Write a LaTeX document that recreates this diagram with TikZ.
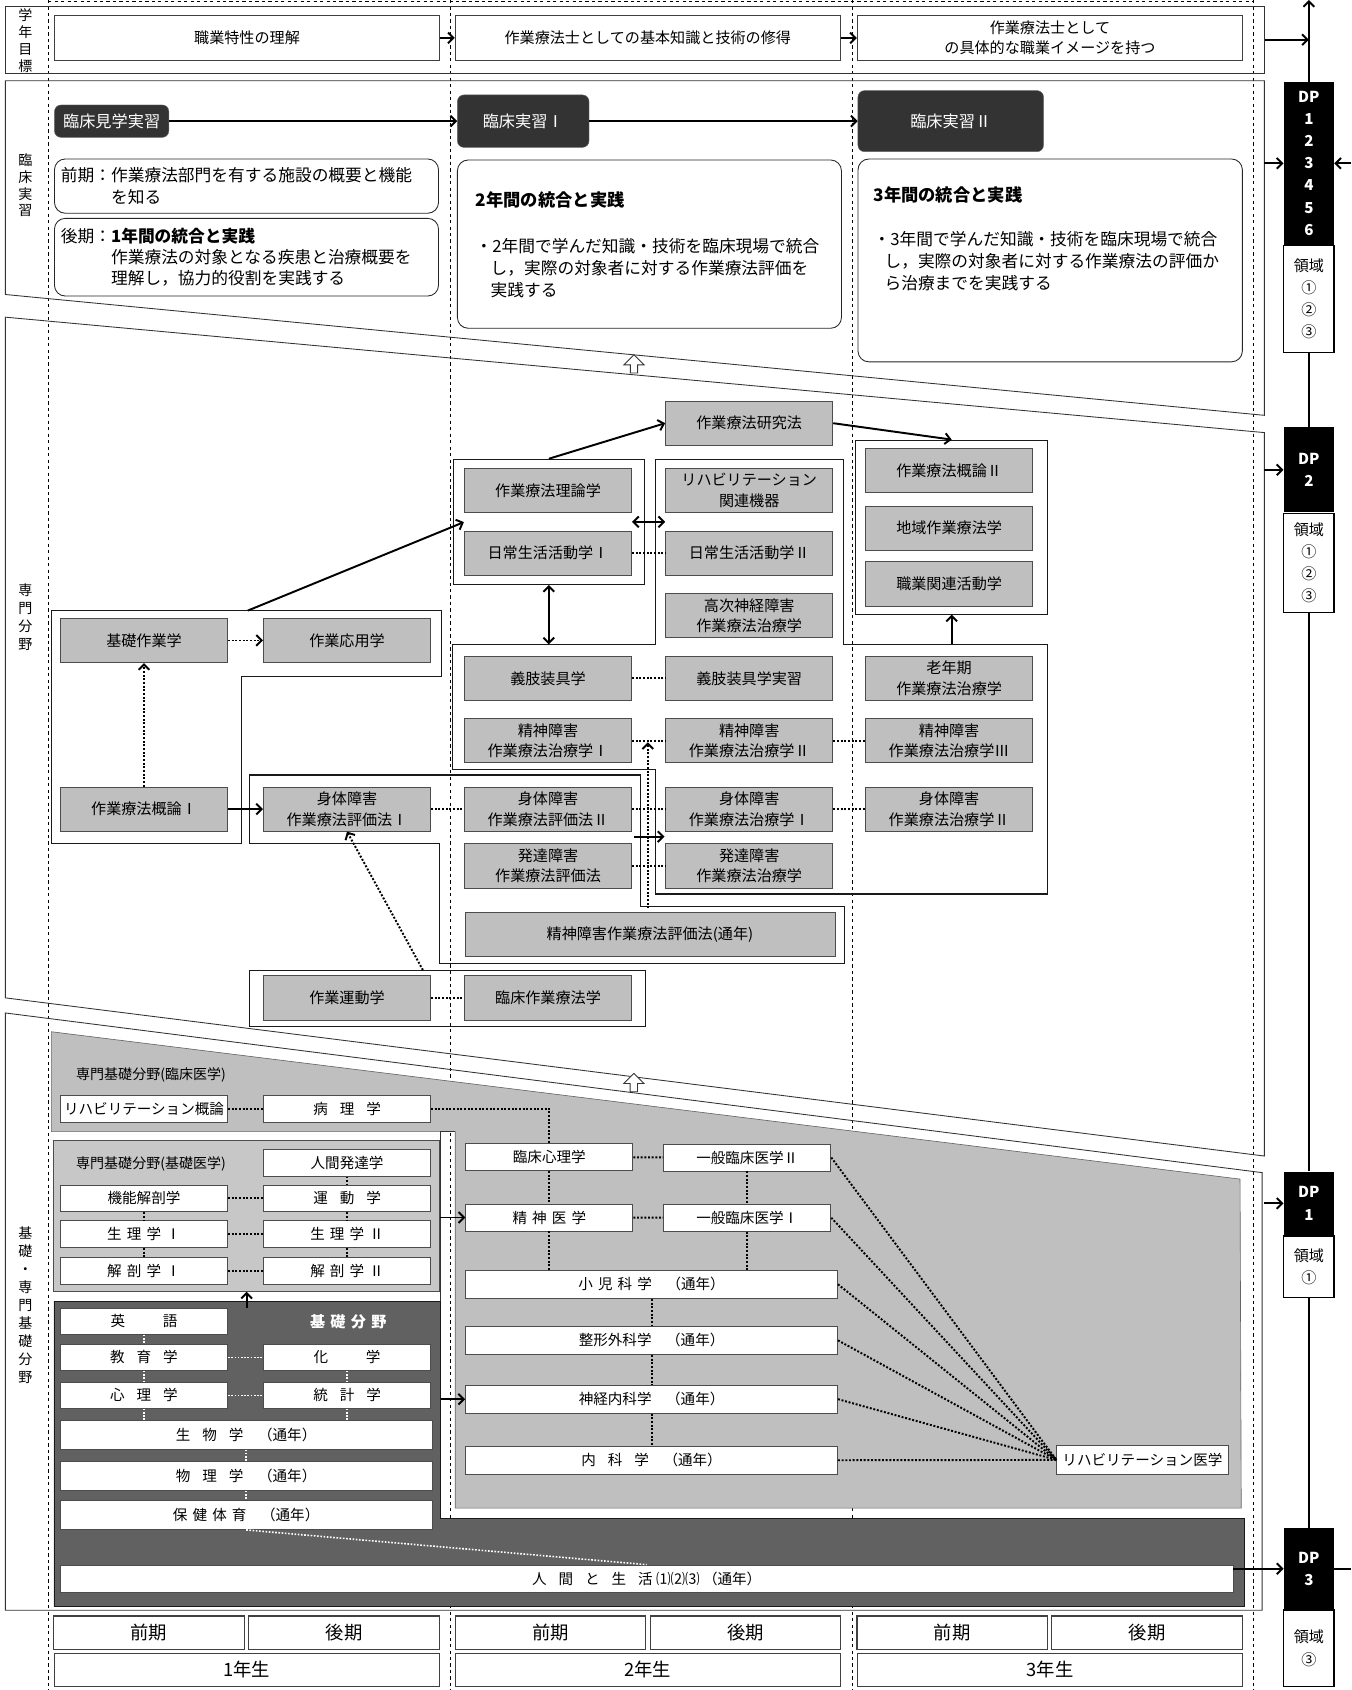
\documentclass[tikz,border=0pt]{standalone}
\usepackage{fontspec}
\setmainfont{Noto Sans CJK JP}
\usetikzlibrary{arrows.meta,positioning,shapes.arrows}
\newcommand{\kgap}{\hspace{0.82em}}
\newcommand{\ngap}{\hspace{0.35em}}

\begin{document}
\begin{tikzpicture}[x=1pt, y=-1pt,
    frame/.style={draw=black!80, line width=0.8pt},
    grp/.style={draw=black!90, line width=1pt},
    lbl/.style={align=center, inner sep=0pt, font=\fontsize{13}{15.6}\selectfont},
    txt/.style={inner sep=0pt, align=left},
    goalbox/.style={draw=black!75, fill=white, line width=0.9pt, minimum width=357pt, minimum height=41pt, inner sep=0pt, align=center, font=\fontsize{14}{18.7}\selectfont},
    darkbox/.style={fill=black!80, draw=black!60, rounded corners=6pt, text=white, inner sep=0pt, font=\fontsize{15}{18}\selectfont},
    rbox/.style={draw=black!85, fill=white, rounded corners=10pt, line width=0.8pt},
    gbox/.style={draw=black!70, fill=black!25, line width=0.8pt, minimum width=155pt, minimum height=41pt, inner sep=0pt, align=center, font=\fontsize{14}{19}\selectfont},
    wbox/.style={draw=black!70, fill=white, line width=0.8pt, minimum width=155pt, minimum height=25pt, inner sep=0pt, align=center, font=\fontsize{13.5}{15}\selectfont},
    termbox/.style={draw=black!75, fill=white, line width=1pt, minimum width=176.5pt, minimum height=31pt, inner sep=0pt, font=\fontsize{17}{20}\selectfont},
    yearbox/.style={draw=black!75, fill=white, line width=1pt, minimum width=357pt, minimum height=30.4pt, inner sep=0pt, font=\fontsize{17}{20}\selectfont},
    dpb/.style={fill=black, text=white, minimum width=46.6pt, inner sep=0pt, align=center, font=\bfseries\fontsize{14}{20.5}\selectfont},
    dpw/.style={draw=black, fill=white, line width=1pt, minimum width=46.6pt, inner sep=0pt, align=center, font=\fontsize{14}{20.5}\selectfont},
    hollow/.style={single arrow, draw=black!80, fill=white, shape border rotate=90, minimum height=17pt, single arrow head extend=6pt, inner sep=3pt, line width=0.8pt},
    arr/.style={-{Straight Barb[length=5pt,width=10pt]}, line width=1.8pt},
    dblarr/.style={{Straight Barb[length=5pt,width=10pt]}-{Straight Barb[length=5pt,width=10pt]}, line width=1.8pt},
    dotarr/.style={-{Straight Barb[length=5pt,width=10pt]}, line width=1.8pt, dash pattern={on 1.8pt off 1.6pt}},
    dotline/.style={line width=1.8pt, dash pattern={on 1.8pt off 1.6pt}},
    wdot/.style={draw=white, line width=1.5pt, dash pattern={on 1.5pt off 1.5pt}}]

    \useasboundingbox (0,0) rectangle (1252.4,1566.6);

    % Semester guides
    \foreach \x in {44.7,417.5,790,1161.6}
        \draw[dashed, line width=0.6pt] (\x,0) -- (\x,1566.6);
    \draw[dashed, line width=0.6pt] (44.7,1.2) -- (1161.6,1.2);

    % Year goals
    \node[frame, minimum width=1167pt, minimum height=62.4pt] (goalrow) at (588.5,36.8) {};
    \node[lbl] (lblgoal) at (23.6,37.5) {学\\年\\目\\標};
    \node[goalbox] (goal1) at (229,35.2) {職業特性の理解};
    \node[goalbox] (goal2) at (600.5,35.2) {作業療法士としての基本知識と技術の修得};
    \node[goalbox] (goal3) at (973.3,35.2) {作業療法士として\\の具体的な職業イメージを持つ};
    \draw[arr] (goal1) -- (goal2);
    \draw[arr] (goal2) -- (goal3);

    % Clinical practice
    \draw[frame] (5,74.8) -- (1172,74.8) -- (1172,385) -- (5,273) -- cycle;
    \node[lbl] (lblclin) at (23.6,171.8) {臨\\床\\実\\習};
    \node[darkbox, minimum width=106pt, minimum height=30pt] (kengaku) at (103.5,112.3) {臨床見学実習};
    \node[darkbox, minimum width=122pt, minimum height=48.6pt] (jisshu1) at (485,112.3) {臨床実習Ⅰ};
    \node[darkbox, minimum width=172pt, minimum height=56.6pt] (jisshu2) at (881.3,112.3) {臨床実習Ⅱ};
    \draw[arr] (kengaku) -- (jisshu1);
    \draw[arr] (jisshu1) -- (jisshu2);

    \node[rbox, text width=344pt, inner xsep=6pt, minimum height=50.3pt, align=left, font=\fontsize{15.5}{20.7}\selectfont] (zenki) at (228.5,172.5)
        {前期：作業療法部門を有する施設の概要と機能\\\hspace*{3em}を知る};
    \node[rbox, text width=344pt, inner xsep=6pt, minimum height=72pt, align=left, font=\fontsize{15.5}{19.8}\selectfont] (kouki) at (228.5,238.4)
        {後期：\textbf{1年間の統合と実践}\\\hspace*{3em}作業療法の対象となる疾患と治療概要を\\\hspace*{3em}理解し，協力的役割を実践する};

    \node[rbox, minimum width=356pt, minimum height=156pt] (nen2) at (602,226.3) {};
    \node[txt, anchor=west, font=\bfseries\fontsize{16}{20}\selectfont] (nen2ttl) at (441,185.4) {2年間の統合と実践};
    \node[txt, anchor=west, font=\fontsize{15.5}{20.2}\selectfont] (nen2txt) at (440.7,248.5)
        {・2年間で学んだ知識・技術を臨床現場で統合\\\hspace*{0.9em}し，実際の対象者に対する作業療法評価を\\\hspace*{0.9em}実践する};

    \node[rbox, minimum width=356.3pt, minimum height=188pt] (nen3) at (973.5,241.4) {};
    \node[txt, anchor=west, font=\bfseries\fontsize{16}{20}\selectfont] (nen3ttl) at (809.7,180.8) {3年間の統合と実践};
    \node[txt, anchor=west, font=\fontsize{15.5}{20.8}\selectfont] (nen3txt) at (809.7,242.1)
        {・3年間で学んだ知識・技術を臨床現場で統合\\\hspace*{0.65em}し，実際の対象者に対する作業療法の評価か\\\hspace*{0.65em}ら治療までを実践する};

    % Specialised field
    \draw[frame] (5,294) -- (1172,401) -- (1172,1071.6) -- (5,925) -- cycle;
    \node[lbl, font=\fontsize{13}{16.8}\selectfont] (lblspec) at (23.6,572) {専\\門\\分\\野};
    \node[hollow] (up1) at (587.7,339) {};

    % Groups
    \draw[grp] (47.6,566) -- (408.9,566) -- (408.9,627.3) -- (223.5,627.3) -- (223.5,781.8) -- (47.6,781.8) -- cycle;
    \node[grp, minimum width=177pt, minimum height=116pt] (grpA) at (508.75,483.75) {};
    \draw[grp] (419.5,597.3) -- (608,597.3) -- (608,425.8) -- (782,425.8) -- (782,597.3) -- (971,597.3)
        -- (971,828.7) -- (608,828.7) -- (608,713.2) -- (419.5,713.2) -- cycle;
    \node[grp, minimum width=177.7pt, minimum height=161.2pt] (grpC) at (882.2,488.6) {};
    \draw[grp] (231.2,718.4) -- (593.6,718.4) -- (593.6,839.9) -- (782.9,839.9) -- (782.9,893)
        -- (407.2,893) -- (407.2,781.8) -- (231.2,781.8) -- cycle;
    \node[grp, minimum width=367pt, minimum height=52.5pt] (grpG) at (414.5,925.45) {};

    \node[gbox] (kenkyu) at (694.5,392.3) {作業療法研究法};
    \node[gbox] (riron) at (508,454.5) {作業療法理論学};
    \node[gbox] (adl1) at (508,512.8) {日常生活活動学Ⅰ};
    \node[gbox] (rehakiki) at (694.5,454.5) {リハビリテーション\\関連機器};
    \node[gbox] (adl2) at (694.5,512.8) {日常生活活動学Ⅱ};
    \node[gbox] (kouji) at (694.5,570.8) {高次神経障害\\作業療法治療学};
    \node[gbox] (gairon2) at (879.8,436.3) {作業療法概論Ⅱ};
    \node[gbox] (chiiki) at (879.8,489.5) {地域作業療法学};
    \node[gbox] (shokugyo) at (879.8,541.2) {職業関連活動学};
    \node[gbox] (kisosagyo) at (133.5,593.7) {基礎作業学};
    \node[gbox] (ouyou) at (321.7,593.7) {作業応用学};
    \node[gbox] (gishi) at (508,628.8) {義肢装具学};
    \node[gbox] (gishiji) at (694.5,628.8) {義肢装具学実習};
    \node[gbox] (rounen) at (879.8,628.8) {老年期\\作業療法治療学};
    \node[gbox] (seishin1) at (508,686.7) {精神障害\\作業療法治療学Ⅰ};
    \node[gbox] (seishin2) at (694.5,686.7) {精神障害\\作業療法治療学Ⅱ};
    \node[gbox] (seishin3) at (879.8,686.7) {精神障害\\作業療法治療学Ⅲ};
    \node[gbox] (gairon1) at (133.5,750) {作業療法概論Ⅰ};
    \node[gbox] (shintaihyo1) at (321.7,750) {身体障害\\作業療法評価法Ⅰ};
    \node[gbox] (shintaihyo2) at (508,750) {身体障害\\作業療法評価法Ⅱ};
    \node[gbox] (shintaichi1) at (694.5,750) {身体障害\\作業療法治療学Ⅰ};
    \node[gbox] (shintaichi2) at (879.8,750) {身体障害\\作業療法治療学Ⅱ};
    \node[gbox] (hattatsuhyo) at (508,802.6) {発達障害\\作業療法評価法};
    \node[gbox] (hattatsuchi) at (694.5,802.6) {発達障害\\作業療法治療学};
    \node[gbox, minimum width=343pt] (seishinhyo) at (602.5,866.3) {精神障害作業療法評価法(通年)};
    \node[gbox] (sagyoundo) at (321.7,925) {作業運動学};
    \node[gbox] (rinsagyo) at (508,925) {臨床作業療法学};

    \coordinate (dTop) at (229.7,566);
    \coordinate (aEntry) at (430,484);
    \coordinate (fA) at (508.75,597.3);
    \coordinate (fC) at (882.2,597.3);
    \coordinate (gTop) at (392,899.2);
    \coordinate (upFrom) at (600.5,842);
    \coordinate (upTo) at (600.5,688);
    \coordinate (rtFrom) at (588,775.6);
    \coordinate (rtTo) at (616,775.6);

    \draw[arr] (grpA.north) -- (kenkyu.west);
    \draw[arr] (kenkyu.east) -- (grpC.north);
    \draw[arr] (dTop) -- (aEntry);
    \draw[dblarr] (riron.east |- grpA.center) -- (rehakiki.west |- grpA.center);
    \draw[dblarr] (grpA.south) -- (fA);
    \draw[arr] (fC) -- (grpC.south);
    \draw[dotarr] (kisosagyo) -- (ouyou);
    \draw[dotarr] (gairon1) -- (kisosagyo);
    \draw[arr] (gairon1) -- (shintaihyo1);
    \draw[dotarr] (gTop) -- (shintaihyo1.south);
    \draw[dotarr] (upFrom) -- (upTo);
    \draw[arr] (rtFrom) -- (rtTo);
    % Dotted links
    \draw[dotline] (adl1) -- (adl2);
    \draw[dotline] (gishi) -- (gishiji);
    \draw[dotline] (seishin1) -- (seishin2);
    \draw[dotline] (seishin2) -- (seishin3);
    \draw[dotline] (shintaihyo1) -- (shintaihyo2);
    \draw[dotline] (shintaihyo2) -- (shintaichi1);
    \draw[dotline] (shintaichi1) -- (shintaichi2);
    \draw[dotline] (hattatsuhyo) -- (hattatsuchi);
    \draw[dotline] (sagyoundo) -- (rinsagyo);

    % Basic and specialised basic fields
    \draw[frame] (5,939) -- (1170,1087) -- (1170,1492.6) -- (5,1492.6) -- cycle;
    \node[lbl, font=\fontsize{13}{16.7}\selectfont] (lblbasic) at (23.6,1209.6) {基\\礎\\・\\専\\門\\基\\礎\\分\\野};
    \node[hollow] (up2) at (587.5,1005.2) {};

    \draw[fill=black!25, draw=black!60, line width=0.6pt] (47.6,956.4) -- (1149.5,1093) -- (1150.6,1398)
        -- (422,1398) -- (422,1049) -- (47.6,1049) -- cycle;
    \draw[frame] (422,1049) -- (408.5,1049) -- (408.5,1206);
    \draw[fill=black!62, draw=black!90, line width=0.8pt] (50,1206) -- (408.5,1206) -- (408.5,1408)
        -- (1153.7,1408) -- (1153.7,1489.4) -- (50,1489.4) -- cycle;
    \node[draw=black!70, fill=black!22, line width=0.8pt, minimum width=358pt, minimum height=139.4pt] (kisoigaku) at (228.65,1127.3) {};

    \node[txt, anchor=west, font=\fontsize{13}{15}\selectfont] (rinshoigaku) at (70.4,996.5) {専門基礎分野(臨床医学)};
    \node[txt, anchor=west, font=\fontsize{13}{15}\selectfont] (kisoigakulbl) at (70.4,1078.5) {専門基礎分野(基礎医学)};
    \node[txt, text=white, font=\bfseries\fontsize{14}{16}\selectfont] (kisobunya) at (322.8,1225.5) {基\ngap 礎\ngap 分\ngap 野};

    \node[wbox] (rehagai) at (133.5,1027.7) {リハビリテーション概論};
    \node[wbox] (byouri) at (321.7,1027.7) {病\kgap 理\kgap 学};
    \node[wbox] (hattatsugaku) at (321.7,1077.7) {人間発達学};
    \node[wbox] (kinou) at (133.5,1110.9) {機能解剖学};
    \node[wbox] (undougaku) at (321.7,1110.9) {運\kgap 動\kgap 学};
    \node[wbox] (seiri1) at (133.5,1144) {生\ngap 理\ngap 学\ngap Ⅰ};
    \node[wbox] (seiri2) at (321.7,1144) {生\ngap 理\ngap 学\ngap Ⅱ};
    \node[wbox] (kaibou1) at (133.5,1178) {解\ngap 剖\ngap 学\ngap Ⅰ};
    \node[wbox] (kaibou2) at (321.7,1178) {解\ngap 剖\ngap 学\ngap Ⅱ};
    \node[wbox] (rinshin) at (509.2,1072.6) {臨床心理学};
    \node[wbox] (ippan2) at (692.7,1073) {一般臨床医学Ⅱ};
    \node[wbox] (seishinigaku) at (509.2,1128.6) {精\ngap 神\ngap 医\ngap 学};
    \node[wbox] (ippan1) at (692.7,1128.8) {一般臨床医学Ⅰ};
    \node[wbox, minimum width=344.8pt, minimum height=26.3pt] (shouni) at (604,1190.5) {小\ngap 児\ngap 科\ngap 学　（通年）};
    \node[wbox, minimum width=344.8pt, minimum height=26.3pt] (seikei) at (604,1242.5) {整形外科学　（通年）};
    \node[wbox, minimum width=344.8pt, minimum height=26.3pt] (shinkei) at (604,1297) {神経内科学　（通年）};
    \node[wbox, minimum width=344.8pt, minimum height=26.3pt] (naika) at (604,1353.6) {内\kgap 科\kgap 学　（通年）};
    \node[wbox, minimum width=158.7pt, minimum height=26.5pt] (rehaigaku) at (1059,1353.3) {リハビリテーション医学};

    \node[wbox, minimum height=24pt] (eigo) at (133.5,1224.8) {英\hspace{2.6em}語};
    \node[wbox, minimum height=24pt] (kyouiku) at (133.5,1258.3) {教\kgap 育\kgap 学};
    \node[wbox, minimum height=24pt] (kagaku) at (321.7,1258.3) {化\hspace{2.6em}学};
    \node[wbox, minimum height=24pt] (shinri) at (133.5,1293.5) {心\kgap 理\kgap 学};
    \node[wbox, minimum height=24pt] (toukei) at (321.7,1293.5) {統\kgap 計\kgap 学};
    \node[wbox, minimum width=344.6pt, minimum height=27pt] (seibutsu) at (228.2,1329.8) {生\kgap 物\kgap 学　（通年）};
    \node[wbox, minimum width=344.6pt, minimum height=27pt] (butsuri) at (228.2,1368) {物\kgap 理\kgap 学　（通年）};
    \node[wbox, minimum width=344.6pt, minimum height=27pt] (hoken) at (228.2,1404.3) {保\ngap 健\ngap 体\ngap 育　（通年）};
    \node[wbox, minimum width=1087pt, minimum height=25.2pt] (ningen) at (599.5,1463.4) {人\kgap 間\kgap と\kgap 生\kgap 活 ⑴⑵⑶ （通年）};

    \draw[dotline] (rehagai) -- (byouri);
    \draw[dotline] (byouri.east) -| (rinshin.north);
    \draw[dotline] (rinshin) -- (ippan2);
    \draw[dotline] (rinshin) -- (seishinigaku);
    \draw[dotline] (seishinigaku) -- (ippan1);
    \draw[dotline] (ippan2) -- (ippan1);
    \draw[dotline] (seishinigaku.south) -- (seishinigaku.south |- shouni.north);
    \draw[dotline] (ippan1.south) -- (ippan1.south |- shouni.north);
    \draw[dotline] (shouni) -- (seikei);
    \draw[dotline] (seikei) -- (shinkei);
    \draw[dotline] (shinkei) -- (naika);
    \foreach \n in {ippan2,ippan1,shouni,seikei,shinkei,naika}
        \draw[dotline] (\n.east) -- (rehaigaku.west);
    \draw[dotline] (hattatsugaku) -- (undougaku);
    \draw[dotline] (kinou) -- (undougaku);
    \draw[dotline] (kinou) -- (seiri1);
    \draw[dotline] (undougaku) -- (seiri2);
    \draw[dotline] (seiri1) -- (seiri2);
    \draw[dotline] (seiri1) -- (kaibou1);
    \draw[dotline] (seiri2) -- (kaibou2);
    \draw[dotline] (kaibou1) -- (kaibou2);
    \draw[arr] (kisoigaku.east |- seishinigaku.west) -- (seishinigaku.west);
    \draw[arr] (kisoigaku.south |- eigo.north) -- (kisoigaku.south);
    % White links in the dark area
    \draw[wdot] (eigo) -- (kyouiku);
    \draw[wdot] (kyouiku) -- (kagaku);
    \draw[wdot] (kyouiku) -- (shinri);
    \draw[wdot] (kagaku) -- (toukei);
    \draw[wdot] (shinri) -- (toukei);
    \draw[wdot] (shinri.south) -- (shinri.south |- seibutsu.north);
    \draw[wdot] (toukei.south) -- (toukei.south |- seibutsu.north);
    \draw[wdot] (seibutsu) -- (butsuri);
    \draw[wdot] (butsuri) -- (hoken);
    \draw[wdot] (hoken.south) -- (ningen.north);
    \coordinate (darkE) at (408.5,1297);
    \draw[arr] (darkE) -- (shinkei.west);

    % Terms and years
    \foreach \i/\x/\t in {1/138/前期, 2/319/後期, 3/510.5/前期, 4/691/後期, 5/882.7/前期, 6/1063.3/後期}
        \node[termbox] (term\i) at (\x,1513.5) {\t};
    \foreach \i/\x in {1/228.65, 2/600.5, 3/973.5}
        \node[yearbox] (year\i) at (\x,1547.8) {\i{}年生};

    % Diploma policy
    \node[dpb, minimum height=151.3pt] (dp1) at (1213.3,151.4) {DP\\1\\2\\3\\4\\5\\6};
    \node[dpw, minimum height=99pt, below=0pt of dp1] (dp1w) {領域\\①\\②\\③};
    \node[dpb, minimum height=79pt] (dp2) at (1213.3,435.5) {DP\\2};
    \node[dpw, minimum height=92pt, below=0pt of dp2] (dp2w) {領域\\①\\②\\③};
    \node[dpb, minimum height=59pt] (dpa) at (1213.3,1115.5) {DP\\1};
    \node[dpw, minimum height=57pt, below=0pt of dpa] (dpaw) {領域\\①};
    \node[dpb, minimum height=75pt] (dp3) at (1213.3,1454.2) {DP\\3};
    \node[dpw, minimum height=71pt, below=0pt of dp3] (dp3w) {領域\\③};

    \coordinate (dptop) at (1213.3,0);
    \coordinate (clinE) at (1172,151.4);
    \coordinate (rightE) at (1252.4,151.4);
    \coordinate (specE) at (1172,435.5);
    \coordinate (basicE) at (1172,1115.5);
    \coordinate (outE) at (1252.4,1454.2);
    \draw[arr] (dp1.north) -- (dptop);
    \draw[line width=1.8pt] (dp1w.south) -- (dp2.north);
    \draw[line width=1.8pt] (dp2w.south) -- (dpa.north);
    \draw[line width=1.8pt] (dpaw.south) -- (dp3.north);
    \draw[arr] (goalrow.east) -- (goalrow.east -| dp1.north);
    \draw[arr] (clinE) -- (dp1.west);
    \draw[arr] (rightE) -- (dp1.east);
    \draw[arr] (specE) -- (dp2.west);
    \draw[arr] (basicE) -- (dpa.west);
    \draw[arr] (ningen.east |- dp3.west) -- (dp3.west);
    \draw[line width=1.8pt] (dp3.east) -- (outE);

\end{tikzpicture}
\end{document}
